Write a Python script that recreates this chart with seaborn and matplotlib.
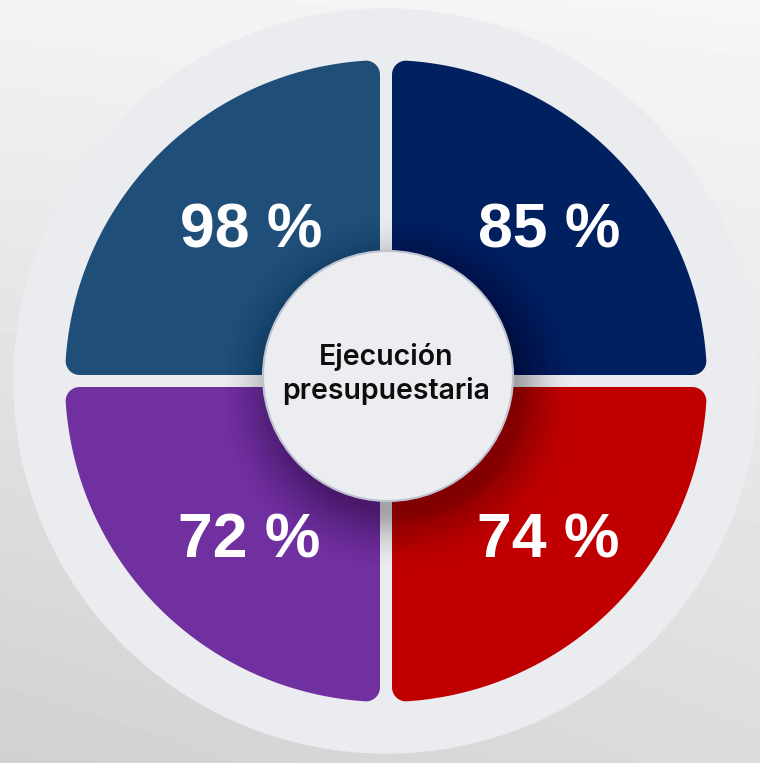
import numpy as np
import matplotlib
matplotlib.use("Agg")
import matplotlib.pyplot as plt
import seaborn as sns
from matplotlib.patches import Polygon, Circle

sns.set_theme(style="white")

# data
quadrants = ["top_left", "top_right", "bottom_left", "bottom_right"]
values = [98, 85, 72, 74]
palette = ["#1F4E79", "#002060", "#7030A0", "#C00000"]
center_title = "Ejecución\npresupuestaria"

# layout (pixel coordinates, y downward)
W, H = 760, 763
cx, cy = 386, 381
R_outer = 372
R_wedge = 321
gap = 6
corner = 14
signs = [(-1, -1), (1, -1), (-1, 1), (1, 1)]
label_pos = [(251, 247), (549, 247), (249, 557), (548, 557)]


def hull(pts):
    pts = sorted(map(tuple, pts))
    def cross(o, a, b):
        return (a[0] - o[0]) * (b[1] - o[1]) - (a[1] - o[1]) * (b[0] - o[0])
    lower, upper = [], []
    for p in pts:
        while len(lower) >= 2 and cross(lower[-2], lower[-1], p) <= 0:
            lower.pop()
        lower.append(p)
    for p in reversed(pts):
        while len(upper) >= 2 and cross(upper[-2], upper[-1], p) <= 0:
            upper.pop()
        upper.append(p)
    return np.array(lower[:-1] + upper[:-1])


def rounded_quadrant(sx, sy):
    # erode the quarter disc, then grow it back by the corner radius
    a = gap + corner
    rr = R_wedge - corner
    top = np.sqrt(rr ** 2 - a ** 2)
    t = np.linspace(np.arctan2(a, top), np.arctan2(top, a), 80)
    core = [(a, a)] + list(zip(rr * np.sin(t), rr * np.cos(t)))
    th = np.linspace(0, 2 * np.pi, 60, endpoint=False)
    pts = [(u + corner * np.cos(k), v + corner * np.sin(k)) for u, v in core for k in th]
    poly = hull(pts)
    return np.column_stack([cx + sx * poly[:, 0], cy + sy * poly[:, 1]])


fig = plt.figure(figsize=(W / 100, H / 100), dpi=100)
ax = fig.add_axes([0, 0, 1, 1])
ax.set_xlim(0, W)
ax.set_ylim(H, 0)
ax.axis("off")

# background gradient
yy, xx = np.mgrid[0:1:200j, 0:1:200j]
bg = 246 - 26 * yy - 8 * (1 - xx) * (0.4 + yy)
ax.imshow(bg, cmap="gray", vmin=0, vmax=255, extent=(0, W, H, 0), zorder=0)

ax.add_patch(Circle((cx, cy), R_outer, color="#EBECF0", zorder=1))

for (sx, sy), col in zip(signs, palette):
    ax.add_patch(Polygon(rounded_quadrant(sx, sy), closed=True, color=col, zorder=2, lw=0))

# soft shadow, mostly towards the lower right of the centre disc
for i in range(20):
    ax.add_patch(Circle((cx + 12, cy + 12), 122 + i * 3.0, color="black",
                        alpha=0.03 * (1 - i / 20), zorder=3, lw=0))

for (x, y), v in zip(label_pos, values):
    ax.text(x, y, f"{v} %", color="white", fontsize=45, fontweight="bold",
            family=["Liberation Sans", "DejaVu Sans"], ha="center", va="baseline", zorder=5)

ax.add_patch(Circle((cx + 2, cy - 5), 125, facecolor="#ECEDF1", edgecolor="#BFC3D2",
                    lw=1.5, zorder=4))
ax.text(cx + 0, cy - 7, center_title, ha="center", va="center", fontsize=20.5,
        fontweight="semibold", family=["Inter", "DejaVu Sans"], color="#0d0d0d",
        linespacing=1.25, zorder=5)

fig.savefig("out.png", dpi=100)
